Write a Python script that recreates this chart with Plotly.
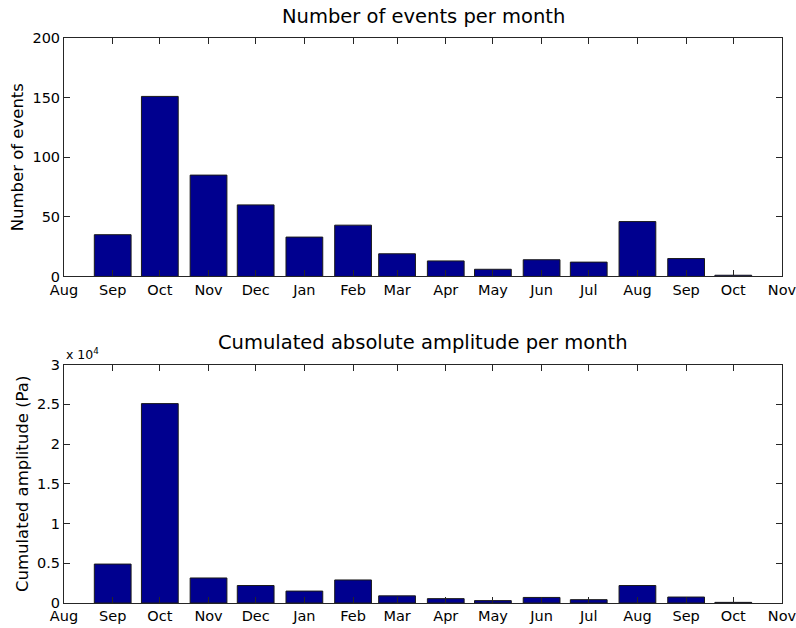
import plotly.graph_objects as go

# month boundaries shown on the x axis
months = ["2010-08-01", "2010-09-01", "2010-10-01", "2010-11-01", "2010-12-01",
          "2011-01-01", "2011-02-01", "2011-03-01", "2011-04-01", "2011-05-01",
          "2011-06-01", "2011-07-01", "2011-08-01", "2011-09-01", "2011-10-01",
          "2011-11-01"]
month_labels = ["Aug", "Sep", "Oct", "Nov", "Dec", "Jan", "Feb", "Mar", "Apr",
                "May", "Jun", "Jul", "Aug", "Sep", "Oct", "Nov"]

# bars sit on Sep .. Oct
bar_months = months[1:15]
events = [35, 151, 85, 60, 33, 43, 19, 13, 6, 14, 12, 46, 15, 1]
amplitude = [4900, 25100, 3150, 2200, 1500, 2900, 900, 550, 300, 700, 420, 2200, 750, 80]

amp_ticks = [0, 5000, 10000, 15000, 20000, 25000, 30000]
amp_labels = ["0", "0.5", "1", "1.5", "2", "2.5", "3"]
event_ticks = [0, 50, 100, 150, 200]

bar_color = "#00008F"
bar_width = 23.4 * 86400000  # ms
font = "DejaVu Sans"
x_range = [months[0], "2011-11-01 00:30"]

fig = go.Figure()
fig.add_trace(go.Bar(x=bar_months, y=events, width=bar_width, xaxis="x", yaxis="y",
                     marker=dict(color=bar_color, line=dict(color="#1a1a1a", width=1))))
fig.add_trace(go.Bar(x=bar_months, y=amplitude, width=bar_width, xaxis="x2", yaxis="y2",
                     marker=dict(color=bar_color, line=dict(color="#1a1a1a", width=1))))

ax = dict(showline=True, linecolor="#262626", linewidth=1, mirror="ticks",
          ticks="inside", ticklen=6, tickcolor="#262626", showgrid=False,
          zeroline=False, automargin=False, ticklabeloverflow="allow",
          tickfont=dict(family=font, size=14.5, color="black"))

fig.update_layout(
    width=796, height=628,
    margin=dict(l=64, r=14, t=38, b=25),
    paper_bgcolor="white", plot_bgcolor="white",
    showlegend=False,
    font=dict(family=font, color="black"),
    xaxis=dict(ax, domain=[0, 1], anchor="y", type="date",
               range=x_range, tickvals=months, ticktext=month_labels),
    yaxis=dict(ax, domain=[0.578, 1.0], anchor="x", range=[0, 200], tickvals=event_ticks,
               title=dict(text="Number of events", font=dict(size=16.5), standoff=4)),
    xaxis2=dict(ax, domain=[0, 1], anchor="y2", type="date",
                range=x_range, tickvals=months, ticktext=month_labels),
    yaxis2=dict(ax, domain=[0, 0.4218], anchor="x2", range=[0, 30000],
                tickvals=amp_ticks, ticktext=amp_labels,
                title=dict(text="Cumulated amplitude (Pa)", font=dict(size=16.5), standoff=4)),
)

fig.add_annotation(text="Number of events per month", x=0.5, y=1.0, xref="paper", yref="paper",
                   xanchor="center", yanchor="bottom", showarrow=False, yshift=8,
                   font=dict(size=19.5))
fig.add_annotation(text="Cumulated absolute amplitude per month", x=0.5, y=0.4218,
                   xref="paper", yref="paper", xanchor="center", yanchor="bottom",
                   showarrow=False, yshift=9, font=dict(size=19.5))
fig.add_annotation(text="x 10<sup>4</sup>", x=0, y=0.4218, xref="paper", yref="paper",
                   xanchor="left", yanchor="bottom", showarrow=False, yshift=1,
                   font=dict(size=12.5))

# drop the page's default body margin so the figure fills the window
fig.write_html("out.html", config={"displayModeBar": False},
               post_script="document.body.style.margin='0';document.body.style.overflow='hidden';")
